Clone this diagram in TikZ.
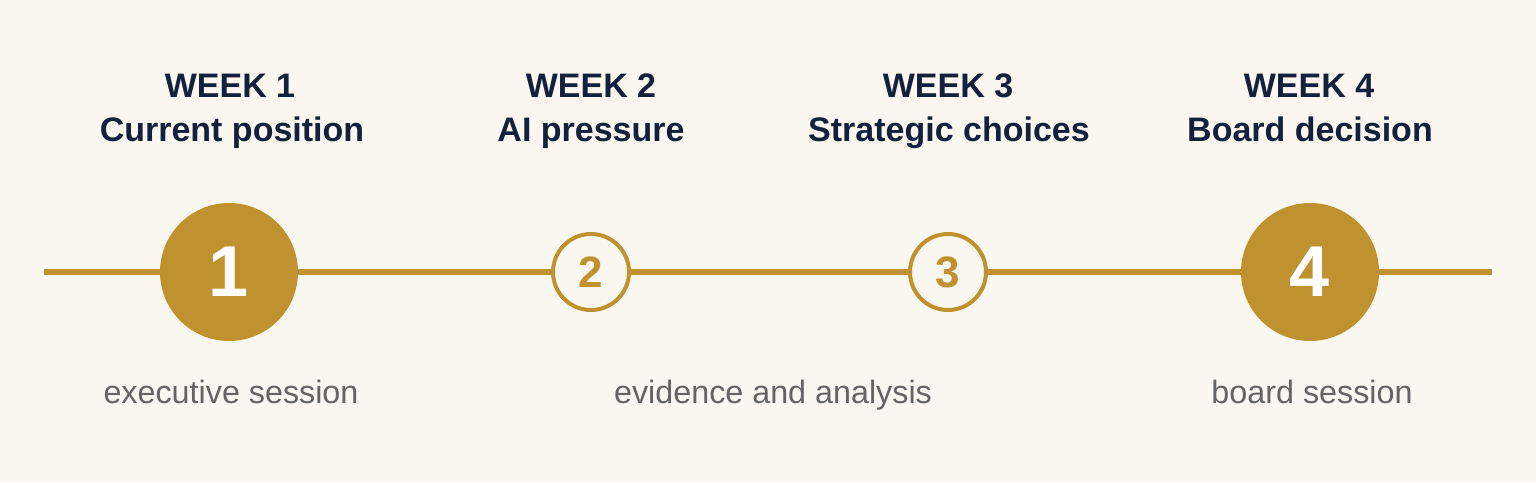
\documentclass[tikz,border=0pt]{standalone}
\usepackage{fontspec}
\setmainfont{Liberation Sans}
\definecolor{bg}{HTML}{FAF7F0}
\definecolor{gold}{HTML}{C0922F}
\definecolor{navy}{HTML}{14213D}
\definecolor{greytxt}{HTML}{646464}
\tikzset{
  head/.style={anchor=base, text=navy, font=\fontsize{34}{40}\selectfont\bfseries, inner sep=0},
  sub/.style={anchor=base, text=greytxt, font=\fontsize{32.3}{36}\selectfont, inner sep=0},
  bigdot/.style={circle, fill=gold, minimum size=138pt, inner sep=0, text=white, font=\fontsize{72}{72}\selectfont\bfseries},
  ringdot/.style={circle, draw=gold, line width=4pt, fill=bg, minimum size=76pt, inner sep=0, text=gold, font=\fontsize{44}{44}\selectfont\bfseries},
  track/.style={draw=gold, line width=5.5pt}
}
\begin{document}
\begin{tikzpicture}[x=1pt,y=-1pt]
\path[fill=bg] (0,0) rectangle (1536,482);
\useasboundingbox (0,0) rectangle (1536,482);
\coordinate (s) at (44,272);
\coordinate (e) at (1492,272);
\node[bigdot] (c1) at (229,272) {1};
\node[ringdot] (c2) at (591,272) {2};
\node[ringdot] (c3) at (948,272) {3};
\node[bigdot] (c4) at (1310,272) {4};
\draw[track] (s) -- (c1);
\draw[track] (c1) -- (c2);
\draw[track] (c2) -- (c3);
\draw[track] (c3) -- (c4);
\draw[track] (c4) -- (e);
\node[head] (w1) at (230,97) {WEEK 1};
\node[head] (t1) at (232,141) {Current position};
\node[head] (w2) at (591,97) {WEEK 2};
\node[head] (t2) at (591,141) {AI pressure};
\node[head] (w3) at (948,97) {WEEK 3};
\node[head] (t3) at (949,141) {Strategic choices};
\node[head] (w4) at (1309,97) {WEEK 4};
\node[head] (t4) at (1310,141) {Board decision};
\node[sub] (b1) at (231,403) {executive session};
\node[sub] (b2) at (773,403) {evidence and analysis};
\node[sub] (b3) at (1312,403) {board session};
\end{tikzpicture}
\end{document}
